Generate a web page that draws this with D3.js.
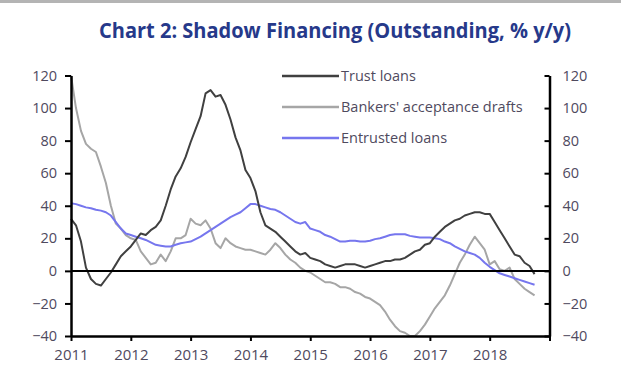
<!DOCTYPE html>
<html>
<head>
<meta charset="utf-8">
<script src="https://cdn.jsdelivr.net/npm/d3@7"></script>
<style>
  html, body { margin: 0; padding: 0; background: #fff; }
  svg { display: block; }
  .tick text { font-family: "Open Sans", sans-serif; font-size: 14.5px; fill: #4f4a5e; }
  .legend text { font-family: "Open Sans", sans-serif; font-size: 14.5px; fill: #4f4a5e; }
</style>
</head>
<body>
<svg id="chart" width="633" height="379"></svg>
<script>
// monthly, Jan 2011 .. Oct 2018, % y/y
var startYear = 2011;
var trustLoans = [32, 28, 18, 2, -5, -8, -9, -5, -1, 4, 9, 12, 15, 19, 23, 22, 25, 27, 31, 40, 50, 58, 63, 70,
  79, 87, 95, 109, 111, 107, 108, 102, 93, 82, 74, 62, 57, 49, 36, 28, 26, 24, 21, 18, 15, 12, 10, 11,
  8, 7, 6, 4, 3, 2, 3, 4, 4, 4, 3, 2, 3, 4, 5, 6, 6, 7, 7, 8, 10, 12, 13, 16,
  17, 21, 24, 27, 29, 31, 32, 34, 35, 36, 36, 35, 35, 30, 25, 20, 15, 10, 9, 5, 3, -2];
var bankersDrafts = [120, 100, 86, 78, 75, 73, 64, 54, 40, 29, 26, 22, 20, 19, 12, 8, 4, 5, 10, 6, 12, 20, 20, 22,
  32, 29, 28, 31, 26, 17, 14, 20, 17, 15, 14, 13, 13, 12, 11, 10, 13, 17, 14, 10, 7, 5, 2, 0,
  -1, -3, -5, -7, -7, -8, -10, -10, -11, -13, -14, -16, -17, -19, -21, -25, -30, -34, -37, -38, -40, -40, -37, -33,
  -28, -23, -19, -15, -9, -2, 5, 10, 16, 21, 17, 13, 4, 6, 1, 0, 2, -5, -8, -11, -13, -15];
var entrustedLoans = [41.5, 41, 40, 39, 38.5, 37.5, 37, 36, 34, 30, 26, 23, 22, 21, 20, 19, 17.5, 16, 15.5, 15, 15, 16, 17, 17.5,
  18, 19.5, 21, 23, 25, 27, 29, 31, 33, 34.5, 36, 38.5, 41, 41, 40, 39, 38, 37.5, 36, 34, 32, 30, 29, 30,
  26, 25, 24, 22, 21, 19.5, 18, 18, 18.5, 18.5, 18, 18, 18.5, 19.5, 20, 21, 22, 22.5, 22.5, 22.5, 21.5, 21, 20.5, 20.5,
  20.5, 20, 19.5, 18, 17, 15, 13.5, 12, 11, 10, 8, 5, 2.5, 0.5, -1.5, -2.5, -3.5, -4.5, -5.5, -6.5, -7.5, -8.5];

var seriesNames = ["Trust loans", "Bankers' acceptance drafts", "Entrusted loans"];
var seriesColors = ["#404040", "#a6a6a6", "#7676ee"];
var yTicks = [-40, -20, 0, 20, 40, 60, 80, 100, 120];
var yearTicks = [2011, 2012, 2013, 2014, 2015, 2016, 2017, 2018, 2019];

var svg = d3.select("#chart");
var margin = {left: 71, right: 633 - 549.5, top: 75.5, bottom: 379 - 336};
var width = 633 - margin.left - margin.right;
var height = 379 - margin.top - margin.bottom;

var x = d3.scaleLinear().domain([2011, 2019]).range([margin.left, margin.left + width]);
var y = d3.scaleLinear().domain([-40, 120]).range([margin.top + height, margin.top]);

// grey rule at top of the page
svg.append("rect").attr("x", 0).attr("y", 0).attr("width", 621).attr("height", 3).attr("fill", "#b4b4b4");

svg.append("text")
  .attr("x", 335).attr("y", 38)
  .attr("text-anchor", "middle")
  .attr("textLength", 472)
  .attr("lengthAdjust", "spacingAndGlyphs")
  .style("font-family", "'Open Sans', sans-serif")
  .style("font-weight", 700)
  .style("font-size", "21px")
  .style("fill", "#26398a")
  .text("Chart 2: Shadow Financing (Outstanding, % y/y)");

var series = [trustLoans, bankersDrafts, entrustedLoans];
var line = d3.line()
  .x(function(d, i) { return x(startYear + i / 12); })
  .y(function(d) { return y(d); });

// bankers first, so darker lines sit on top
[1, 2, 0].forEach(function(k) {
  svg.append("path")
    .datum(series[k])
    .attr("d", line)
    .attr("fill", "none")
    .attr("stroke", seriesColors[k])
    .attr("stroke-width", 2)
    .attr("stroke-linejoin", "round");
});

// zero line
svg.append("line")
  .attr("x1", x(2011)).attr("x2", x(2019))
  .attr("y1", y(0)).attr("y2", y(0))
  .attr("stroke", "#000").attr("stroke-width", 2);

var leftAxis = svg.append("g")
  .attr("transform", "translate(" + x(2011) + ",0)")
  .call(d3.axisLeft(y).tickValues(yTicks).tickSize(6).tickPadding(8).tickSizeOuter(0));
var rightAxis = svg.append("g")
  .attr("transform", "translate(" + x(2019) + ",0)")
  .call(d3.axisRight(y).tickValues(yTicks).tickSize(-5).tickPadding(13).tickSizeOuter(0));
var bottomAxis = svg.append("g")
  .attr("transform", "translate(0," + y(-40) + ")")
  .call(d3.axisBottom(x).tickValues(yearTicks).tickFormat(function(d) { return d === 2019 ? "" : d; })
    .tickSize(5).tickPadding(8).tickSizeOuter(0));

[leftAxis, rightAxis, bottomAxis].forEach(function(g) {
  g.select(".domain").attr("stroke", "#000").attr("stroke-width", 2.5);
  g.selectAll(".tick line").attr("stroke", "#000").attr("stroke-width", 2);
});
bottomAxis.selectAll(".tick text").style("font-size", "15px");

var legend = svg.append("g").attr("class", "legend");
var legendY = [76, 107, 138];
seriesNames.forEach(function(name, i) {
  legend.append("line")
    .attr("x1", 282).attr("x2", 339)
    .attr("y1", legendY[i]).attr("y2", legendY[i])
    .attr("stroke", seriesColors[i]).attr("stroke-width", 2.5);
  legend.append("text")
    .attr("x", 341).attr("y", legendY[i])
    .attr("dy", "0.35em")
    .text(name);
});
</script>
</body>
</html>
